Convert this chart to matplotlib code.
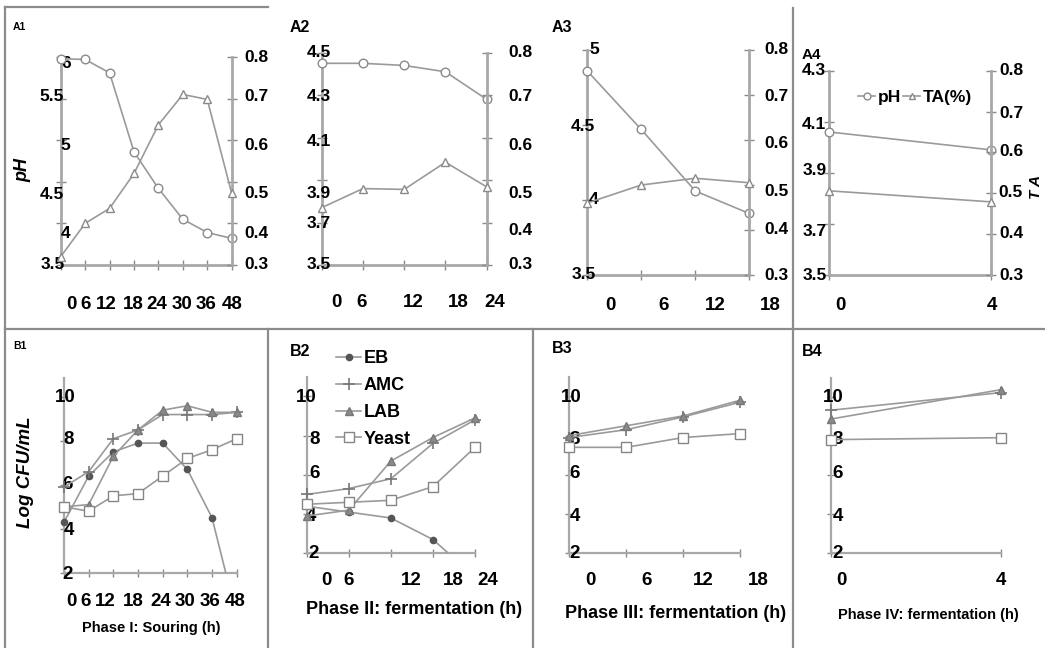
import matplotlib
matplotlib.use('Agg')
import matplotlib.pyplot as plt
from matplotlib.lines import Line2D
from matplotlib.transforms import Bbox, TransformedBbox

W, H = 1045, 648
plt.rcParams['font.family'] = ['Liberation Sans', 'DejaVu Sans']
plt.rcParams['font.weight'] = 'bold'

# ---------------- data ----------------
a1_time = ['0', '6', '12', '18', '24', '30', '36', '48']
a1_ph = [5.98, 5.97, 5.81, 4.86, 4.42, 4.05, 3.89, 3.82]
a1_ta = [0.32, 0.40, 0.436, 0.52, 0.637, 0.71, 0.698, 0.472]

a2_time = ['0', '6', '12', '18', '24']
a2_ph = [4.45, 4.45, 4.44, 4.41, 4.28]
a2_ta = [0.435, 0.48, 0.478, 0.542, 0.484]

a3_time = ['0', '6', '12', '18']
a3_ph = [4.86, 4.47, 4.06, 3.91]
a3_ta = [0.46, 0.50, 0.515, 0.505]

a4_time = ['0', '4']
a4_ph = [4.06, 3.99]
a4_ta = [0.506, 0.479]

b1_time = ['0', '6', '12', '18', '24', '30', '36', '48']
b1_eb = [4.3, 6.4, 7.5, 7.9, 7.9, 6.7, 4.5, 0.0]
b1_amc = [5.9, 6.6, 8.1, 8.5, 9.2, 9.2, 9.2, 9.3]
b1_lab = [5.0, 5.1, 7.3, 8.5, 9.4, 9.6, 9.3, 9.3]
b1_yeast = [5.0, 4.8, 5.5, 5.6, 6.4, 7.2, 7.6, 8.1]

b2_time = ['0', '6', '12', '18', '24']
b2_eb = [4.4, 4.1, 3.8, 2.7, 0.8]
b2_amc = [5.0, 5.3, 5.8, 7.6, 8.8]
b2_lab = [3.9, 4.2, 6.7, 7.9, 8.9]
b2_yeast = [4.5, 4.6, 4.7, 5.4, 7.4]

b3_time = ['0', '6', '12', '18']
b3_amc = [7.9, 8.3, 8.95, 9.7]
b3_lab = [8.0, 8.5, 9.0, 9.8]
b3_yeast = [7.4, 7.4, 7.9, 8.1]

b4_time = ['0', '4']
b4_amc = [9.3, 10.2]
b4_lab = [8.85, 10.35]
b4_yeast = [7.8, 7.9]

ph_ticks = {
    'A1': [3.5, 4, 4.5, 5, 5.5, 6],
    'A2': [3.5, 3.7, 3.9, 4.1, 4.3, 4.5],
    'A3': [3.5, 4, 4.5, 5],
    'A4': [3.5, 3.7, 3.9, 4.1, 4.3],
}
ta_ticks = [0.3, 0.4, 0.5, 0.6, 0.7, 0.8]
cfu_ticks = [2, 4, 6, 8, 10]

# ---------------- style ----------------
LINE_C = '#9a9a9a'
SPINE_C = '#a8a8a8'
TICK_C = '#8a8a8a'
FRAME_C = '#8c8c8c'

fig = plt.figure(figsize=(W / 100, H / 100), dpi=100)


def add_ax(l, t, r, b):
    return fig.add_axes([l / W, 1 - b / H, (r - l) / W, (b - t) / H])


def ftext(x, y, s, **kw):
    fig.text(x / W, 1 - y / H, s, **kw)


def fmt(v):
    return '%g' % v


def xlabels(ax, labels, dxs, dy, size):
    for i, (lab, dx) in enumerate(zip(labels, dxs)):
        ax.annotate(lab, xy=(i, 0), xycoords=('data', 'axes fraction'),
                    xytext=(dx, -dy), textcoords='offset pixels',
                    ha='center', va='center', fontsize=size,
                    fontweight='bold', annotation_clip=False)


def ylabels(ax, values, dxs, dys, size, side=0):
    for v, dx, dy in zip(values, dxs, dys):
        ax.annotate(fmt(v), xy=(side, v), xycoords=('axes fraction', 'data'),
                    xytext=(dx, -dy), textcoords='offset pixels',
                    ha='center', va='center', fontsize=size,
                    fontweight='bold', annotation_clip=False)


def a_panel(box, times, ph, ta, phlim, phticks, ldx, ldy, rdx, rdy, xdx, xdy, xsize):
    ax = add_ax(*box)
    ax2 = ax.twinx()
    n = len(times)
    x = list(range(n))
    lp, = ax.plot(x, ph, color=LINE_C, lw=1.2, marker='o', ms=6.2,
                  mfc='white', mec='#8a8a8a', mew=1.0, clip_on=False, zorder=5,
                  label='pH')
    lt, = ax2.plot(x, ta, color=LINE_C, lw=1.2, marker='^', ms=6.2,
                   mfc='white', mec='#8a8a8a', mew=1.0, clip_on=False, zorder=5,
                   label='TA(%)')
    ax.set_xlim(0, n - 1)
    ax.set_ylim(*phlim)
    ax2.set_ylim(0.3, 0.8)
    ax.set_xticks(x)
    ax.set_yticks(phticks)
    ax2.set_yticks(ta_ticks)
    for a in (ax, ax2):
        a.patch.set_visible(False)
        a.spines['top'].set_visible(False)
        for s in ('left', 'right', 'bottom'):
            a.spines[s].set_color(SPINE_C)
            a.spines[s].set_linewidth(2.0)
        a.tick_params(direction='inout', length=7, width=1, color=TICK_C,
                      labelleft=False, labelright=False, labelbottom=False)
    ax.spines['right'].set_visible(False)
    ax2.spines['left'].set_visible(False)
    ax2.spines['bottom'].set_visible(False)
    ylabels(ax, phticks, ldx, ldy, 12.5, side=0)
    ylabels(ax2, ta_ticks, [rdx] * len(ta_ticks), rdy, 12.5, side=1)
    xlabels(ax, times, xdx, xdy, xsize)
    return ax, ax2, lp, lt


# ---------------- A panels ----------------
a_panel((60.7, 57, 231.7, 265), a1_time, a1_ph, a1_ta, (3.5, 6.0), ph_ticks['A1'],
        [-8, 5, -9, 5, -9, 5], [0, 10, 13, 5, -2, 6],
        25, [0, 10, 11.5, 5, -2, 0],
        [10.3, 0.9, -3.6, -1, -1.4, -0.9, -1.3, 0.3], 40, 13.5)

a_panel((321.7, 52.7, 486.7, 265), a2_time, a2_ph, a2_ta, (3.5, 4.5), ph_ticks['A2'],
        [-3] * 6, [0, 1, 13, 4, 1.5, 0],
        34, [0, 7.5, 13, 7.4, 1.5, 0],
        [14.3, -1.2, 8.8, 12.6, 8.3], 38, 13.5)

a_panel((587.3, 50, 749.3, 275), a3_time, a3_ph, a3_ta, (3.5, 5.0), ph_ticks['A3'],
        [-4, 6.5, -4, 6.5], [0, 0, 1.7, 0],
        27, [0, 0, 6.7, 3.3, 1.7, 0],
        [22.7, 22, 19.7, 20.7], 30, 13.5)

ax4, ax4b, lp4, lt4 = a_panel((829.3, 70.7, 991, 275), a4_time, a4_ph, a4_ta, (3.5, 4.3),
                               ph_ticks['A4'],
                               [-15] * 5, [0, 8, -2, 3, 0],
                               20, [0, -1, -0.7, -0.8, 1.7, 0],
                               [10.7, 0.7], 30, 13.5)
ax4b.legend(handles=[lp4, lt4], loc='center left', ncol=2, frameon=False,
            bbox_to_anchor=(858 / W, 1 - 97 / H), bbox_transform=fig.transFigure,
            handlelength=1.0, handletextpad=0.15, columnspacing=0.1,
            borderpad=0, borderaxespad=0, markerscale=0.8,
            prop={'weight': 'bold', 'size': 12.5})


# ---------------- B panels ----------------
B_STYLE = {
    'EB': dict(marker='o', ms=4.5, mfc='#555555', mec='#555555'),
    'AMC': dict(marker='+', ms=8, mew=1.2, mec='#777777'),
    'LAB': dict(marker='^', ms=6, mfc='#8a8a8a', mec='#777777'),
    'Yeast': dict(marker='s', ms=7, mfc='white', mec='#858585', mew=1.0),
}


def b_panel(box, times, series, ytop, ydx, ydy, xdx, xdy, xsize):
    ax = add_ax(*box)
    n = len(times)
    x = list(range(n))
    clip = TransformedBbox(Bbox([[-0.3, 0.0], [1.3, 1.5]]), ax.transAxes)
    lines = []
    for name, vals in series:
        st = B_STYLE[name]
        ln, = ax.plot(x, vals, color=LINE_C, lw=1.2, label=name, zorder=5, **st)
        ln.set_clip_box(clip)
        lines.append(ln)
    ax.set_xlim(0, n - 1)
    ax.set_ylim(2, ytop)
    ax.set_xticks(x)
    ax.set_yticks(cfu_ticks)
    ax.patch.set_visible(False)
    for s in ('top', 'right'):
        ax.spines[s].set_visible(False)
    for s in ('left', 'bottom'):
        ax.spines[s].set_color(SPINE_C)
        ax.spines[s].set_linewidth(1.6)
    ax.tick_params(direction='inout', length=6, width=1, color=TICK_C,
                   labelleft=False, labelbottom=False)
    ylabels(ax, cfu_ticks, ydx, ydy, 13.5, side=0)
    xlabels(ax, times, xdx, xdy, xsize)
    return ax, lines


b_panel((64, 378.3, 236.7, 572.7), b1_time,
        [('EB', b1_eb), ('AMC', b1_amc), ('LAB', b1_lab), ('Yeast', b1_yeast)],
        10.85, [3.5, 5, 3.5, 5, 1], [1.3, 1.3, 0, -1.4, 0.6],
        [7, -2.7, -8.3, -5, -2, -2.3, -2, -1.7], 29, 13.5)

axb2, lines2 = b_panel((306.7, 376.7, 475, 553.3), b2_time,
                       [('EB', b2_eb), ('AMC', b2_amc), ('LAB', b2_lab), ('Yeast', b2_yeast)],
                       11.0, [6.5, 4.5, 7.5, 7.5, 0], [0, 2, -1, 3.6, 0.8],
                       [20, -0.5, 20.8, 20.1, 13], 27, 13.5)
axb2.legend(handles=lines2, loc='upper left', frameon=False,
            bbox_to_anchor=(336 / W, 1 - 350 / H), bbox_transform=fig.transFigure,
            handlelength=1.4, handletextpad=0.15, labelspacing=0.55,
            borderpad=0, borderaxespad=0,
            prop={'weight': 'bold', 'size': 13})

b_panel((569.3, 376.7, 740, 553.3), b3_time,
        [('AMC', b3_amc), ('LAB', b3_lab), ('Yeast', b3_yeast)],
        11.0, [5.7, 5.7, 5.7, 5.7, 1.7], [0, 2, -1, 3.6, 0.8],
        [21.4, 20.5, 20.1, 18.3], 27, 13.5)

b_panel((830.7, 378.3, 1001, 553.3), b4_time,
        [('AMC', b4_amc), ('LAB', b4_lab), ('Yeast', b4_yeast)],
        10.93, [7, 7, 7, 7, 2.3], [0, 2, -1, 3.6, 0.8],
        [11, -0.3], 27, 13.5)

# ---------------- texts ----------------
ftext(13, 27, 'A1', fontsize=7.5, fontweight='bold', va='center', ha='left')
ftext(290, 27, 'A2', fontsize=11.5, fontweight='bold', va='center', ha='left')
ftext(552, 27, 'A3', fontsize=11.5, fontweight='bold', va='center', ha='left')
ftext(802, 55, 'A4', fontsize=11, fontweight='bold', va='center', ha='left')
ftext(13, 346, 'B1', fontsize=7.5, fontweight='bold', va='center', ha='left')
ftext(290, 351, 'B2', fontsize=11.5, fontweight='bold', va='center', ha='left')
ftext(552, 349, 'B3', fontsize=11.5, fontweight='bold', va='center', ha='left')
ftext(802, 351, 'B4', fontsize=11.5, fontweight='bold', va='center', ha='left')

ftext(23, 170, 'pH', fontsize=13, fontweight='bold', fontstyle='italic',
      rotation=90, ha='center', va='center')
ftext(1036, 187, 'T A', fontsize=11, fontweight='bold', fontstyle='italic',
      rotation=90, ha='center', va='center')
ftext(26, 472, 'Log CFU/mL', fontsize=13.5, fontweight='bold', fontstyle='italic',
      rotation=90, ha='center', va='center')

ftext(151.7, 628.3, 'Phase I: Souring (h)', fontsize=10.5, fontweight='bold',
      family=['Liberation Sans Narrow', 'Liberation Sans'], ha='center', va='center')
ftext(414, 610, 'Phase II: fermentation (h)', fontsize=13, fontweight='bold',
      ha='center', va='center')
ftext(676, 613.3, 'Phase III: fermentation (h)', fontsize=13, fontweight='bold',
      ha='center', va='center')
ftext(928, 615, 'Phase IV: fermentation (h)', fontsize=10.5, fontweight='bold',
      ha='center', va='center')


# ---------------- frame lines ----------------
def frame_line(x0, y0, x1, y1):
    fig.add_artist(Line2D([x0 / W, x1 / W], [1 - y0 / H, 1 - y1 / H],
                          transform=fig.transFigure, color=FRAME_C, lw=1.6))


frame_line(5, 7, 268, 7)
frame_line(5, 7, 5, 648)
frame_line(5, 329, 1045, 329)
frame_line(793, 8, 793, 648)
frame_line(268, 329, 268, 648)
frame_line(533, 329, 533, 648)

fig.savefig('out.png', dpi=100, facecolor='white')
